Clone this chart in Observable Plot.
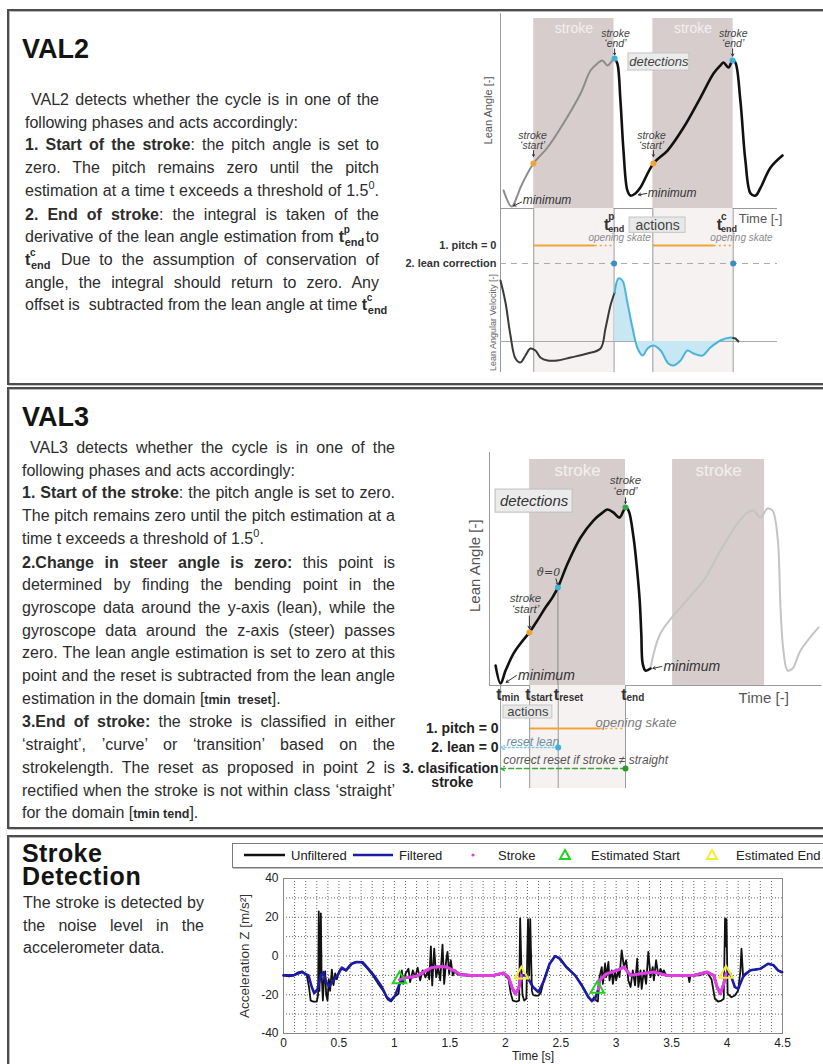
<!DOCTYPE html>
<html>
<head>
<meta charset="utf-8">
<script src="https://cdn.jsdelivr.net/npm/d3@7"></script>
<script src="https://cdn.jsdelivr.net/npm/@observablehq/plot@0.6"></script>
<style>
html,body{margin:0;padding:0;background:#fff}
#page{position:relative;width:823px;height:1064px;overflow:hidden;background:#fff;font-family:Arial,"Liberation Sans",Helvetica,sans-serif;color:#2c2c2c}
.panel{position:absolute;left:7px;width:840px;border:2px solid #4d4d4d;box-shadow:inset 1px 1px 0 #b8b8b8,1px 1px 0 #c8c8c8;box-sizing:border-box}
.title{position:absolute;left:22px;font-weight:bold;font-size:27px;line-height:27px;color:#141414;white-space:nowrap}
.para{position:absolute;font-size:16px;line-height:22.7px}
.para>div{white-space:nowrap}
.tn{position:relative;display:inline-block;font-weight:bold;width:27px}
.tn i{position:absolute;font-style:normal;font-size:10px;line-height:10px}
.tn .sp{left:5px;top:-1px}
.tn .sb{left:6px;top:11px;font-size:11px;line-height:11px}
.deg{position:relative;top:-7px;font-size:11px}
.sm{font-size:12.5px}
.chart{position:absolute}
.chart svg{overflow:visible}
.lg{position:absolute;font-size:13px;line-height:13px;color:#222;white-space:nowrap}
</style>
</head>
<body>
<div id="page">
  <div class="panel" style="top:9px;height:376px"></div>
  <div class="panel" style="top:387px;height:442px"></div>
  <div class="panel" style="top:835px;height:260px"></div>

  <div class="title" style="top:36px">VAL2</div>
  <div class="para" style="left:25px;top:89px;width:354px">
    <div class="j" style="padding-left:6px"><span>VAL2 detects whether the cycle is in one of the</span></div>
    <div><span>following phases and acts accordingly:</span></div>
    <div class="j"><span><b>1. Start of the stroke</b>: the pitch angle is set to</span></div>
    <div class="j"><span>zero. The pitch remains zero until the pitch</span></div>
    <div class="j"><span>estimation at a time t exceeds a threshold of 1.5<span class="deg">0</span>.</span></div>
    <div class="j"><span><b>2. End of stroke</b>: the integral is taken of the</span></div>
    <div class="j"><span>derivative of the lean angle estimation from <span class="tn">t<i class="sp">p</i><i class="sb">end</i></span>to</span></div>
    <div class="j"><span><span class="tn">t<i class="sp">c</i><i class="sb">end</i></span> Due to the assumption of conservation of</span></div>
    <div class="j"><span>angle, the integral should return to zero. Any</span></div>
    <div><span>offset is&nbsp; subtracted from the lean angle at time <span class="tn">t<i class="sp">c</i><i class="sb">end</i></span></span></div>
  </div>

  <div class="title" style="top:404px">VAL3</div>
  <div class="para" style="left:22px;top:437px;width:373px">
    <div class="j" style="padding-left:8px"><span>VAL3 detects whether the cycle is in one of the</span></div>
    <div><span>following phases and acts accordingly:</span></div>
    <div class="j"><span><b>1. Start of the stroke</b>: the pitch angle is set to zero.</span></div>
    <div class="j"><span>The pitch remains zero until the pitch estimation at a</span></div>
    <div><span>time t exceeds a threshold of 1.5<span class="deg">0</span>.</span></div>
    <div class="j"><span><b>2.Change in steer angle is zero:</b> this point is</span></div>
    <div class="j"><span>determined by finding the bending point in the</span></div>
    <div class="j"><span>gyroscope data around the y-axis (lean), while the</span></div>
    <div class="j"><span>gyroscope data around the z-axis (steer) passes</span></div>
    <div class="j"><span>zero. The lean angle estimation is set to zero at this</span></div>
    <div class="j"><span>point and the reset is subtracted from the lean angle</span></div>
    <div><span>estimation in the domain [<b class="sm">tmin&nbsp; treset</b>].</span></div>
    <div class="j"><span><b>3.End of stroke:</b> the stroke is classified in either</span></div>
    <div class="j"><span>‘straight’, ’curve’ or ‘transition’ based on the</span></div>
    <div class="j"><span>strokelength. The reset as proposed in point 2 is</span></div>
    <div class="j"><span>rectified when the stroke is not within class ‘straight’</span></div>
    <div><span>for the domain [<b class="sm">tmin tend</b>].</span></div>
  </div>

  <div class="title" style="top:842px;height:22px;line-height:22px;font-size:25px;letter-spacing:0.4px">Stroke</div>
  <div class="title" style="top:865px;height:22px;line-height:22px;font-size:25px;letter-spacing:0.6px">Detection</div>
  <div class="para" style="left:23px;top:892px;width:181px">
    <div class="j"><span>The stroke is detected by</span></div>
    <div class="j"><span>the noise level in the</span></div>
    <div><span>accelerometer data.</span></div>
  </div>

  <div id="legendBox" style="position:absolute;left:232px;top:843px;width:640px;height:23px;border:1px solid #7a7a7a;background:#fff;box-shadow:1px 1px 0 #bbb"></div>
</div>

<script>
// ================= DATA =================
// ---- VAL2 schematic (time [-] in schematic units) ----
const val2StrokeStart = [1.2, 5.5];
const val2StrokeEnd   = [4.1, 8.4];
// lean angle [-] : first cycle (grey) and following cycle (black)
const val2LeanPre = [[0.11,0.95],[0.40,0.10],[0.61,0.68],[0.72,1.10],[1.19,2.37],[1.70,3.21],[2.27,4.47],[2.89,6.05],[3.25,7.26],[3.50,7.63],[3.68,7.79],[3.86,7.53],[4.04,7.79],[4.12,7.89]];
const val2LeanPost = [[4.12,7.89],[4.22,7.63],[4.33,5.68],[4.44,3.05],[4.58,0.95],[4.69,0.68],[4.87,0.79],[5.05,1.10],[5.52,2.37],[6.03,3.05],[6.61,4.26],[7.22,5.84],[7.69,7.10],[7.94,7.53],[8.05,7.68],[8.23,7.42],[8.38,7.79],[8.48,7.68],[8.66,5.68],[8.84,2.53],[9.03,0.79],[9.21,0.68],[9.39,1.10],[9.75,2.16],[10.18,2.79]];
const val2StartPts = [[1.19,2.37],[5.52,2.37]];
const val2EndPts = [[4.12,7.89],[8.38,7.79]];
// lean angular velocity [-]
const val2VelPre = [[0,6.1],[0.18,3.9],[0.36,0.6],[0.54,-1.7],[0.72,-2.1],[0.90,-1.4],[1.08,-0.7],[1.26,-0.9],[1.44,-1.6],[1.70,-1.9],[2.06,-1.9],[2.53,-1.6],[3.14,-1.2],[3.61,-0.7],[3.79,1.3],[3.97,3.6],[4.12,4.9]];
const val2VelInt = [[4.12,4.9],[4.26,6.3],[4.40,6.1],[4.58,3.9],[4.77,1.3],[4.95,-0.7],[5.13,-1.4],[5.31,-0.7],[5.52,-0.4],[5.78,-0.9],[6.06,-2.2],[6.25,-2.4],[6.50,-1.9],[6.75,-0.9],[6.97,-1.2],[7.29,-1.4],[7.58,-0.6],[7.94,0.1],[8.30,0.4],[8.40,0.35]];
const val2VelTail = [[8.40,0.35],[8.48,0.3],[8.59,0.0]];
// actions
const val2PitchSolid = [[1.2,3.4],[5.5,7.7]];
const val2PitchDotted = [[3.4,4.1],[7.7,8.4]];
const val2LeanCorrDots = [4.1, 8.4];
const val2TEnd = [{x:3.93, sup:"p"}, {x:8.0, sup:"c"}];
// annotations
const val2StrokeLabels = [
  {x:4.15,y:9.21,text:"stroke"},{x:4.15,y:8.68,text:"‘end’"},
  {x:8.4,y:9.21,text:"stroke"},{x:8.4,y:8.68,text:"‘end’"},
  {x:1.16,y:3.84,text:"stroke"},{x:1.16,y:3.31,text:"‘start’"},
  {x:5.45,y:3.84,text:"stroke"},{x:5.45,y:3.31,text:"‘start’"}];
const val2Arrows = [{x1:4.12,y1:8.4,x2:4.12,y2:8.08},{x1:8.38,y1:8.4,x2:8.38,y2:8.02},{x1:1.19,y1:3.05,x2:1.19,y2:2.74},{x1:5.52,y1:3.05,x2:5.52,y2:2.74},{x1:0.76,y1:0.34,x2:0.47,y2:0.14},{x1:5.28,y1:0.79,x2:4.98,y2:0.72}];
const val2MinLabels = [{x:0.8,y:0.42,text:"minimum"},{x:5.32,y:0.79,text:"minimum"}];
const val2DetBox = [{x1:4.62,x2:6.82,y1:7.26,y2:8.16,text:"detections"}];
const val2ActBox = [{x1:4.66,x2:6.68,y1:0.5,y2:1.35,text:"actions"}];
const val2Opening = [{x:4.3,y:1.65},{x:8.7,y:1.65}];

// ---- VAL3 schematic ----
const val3StrokeStart = [1.45, 6.61];
const val3StrokeEnd   = [4.91, 9.93];
const val3Times = [{x:0.4,sub:"min"},{x:1.45,sub:"start"},{x:2.48,sub:"reset"},{x:4.91,sub:"end"}];
const val3LeanMain = [[0.22,0.88],[0.40,0.09],[0.58,0.66],[0.87,1.42],[1.12,1.86],[1.44,2.35],[1.77,2.96],[2.02,3.45],[2.27,3.89],[2.47,4.34],[2.82,5.40],[3.29,6.55],[3.75,7.30],[4.08,7.65],[4.26,7.79],[4.48,7.65],[4.69,7.43],[4.84,7.74],[4.91,7.88],[5.02,7.74],[5.20,6.55],[5.33,5.09],[5.42,3.8],[5.48,2.3],[5.53,0.97],[5.63,0.66],[5.81,0.75]];
const val3LeanNext = [[5.81,0.75],[6.17,2.30],[7.0,3.6],[7.73,4.65],[8.34,5.97],[8.95,7.17],[9.31,7.65],[9.53,7.74],[9.78,7.43],[10.04,7.83],[10.22,7.74],[10.40,6.55],[10.51,3.32],[10.61,1.55],[10.76,0.66],[10.94,0.75],[11.23,1.55],[11.88,2.57]];
const val3StartPt = [[1.44,2.35]];
const val3ResetPt = [[2.47,4.34]];
const val3EndPt = [[4.91,7.88]];
const val3StrokeLabels = [
  {x:4.91,y:9.07,text:"stroke"},{x:4.91,y:8.58,text:"‘end’"},
  {x:1.3,y:3.85,text:"stroke"},{x:1.3,y:3.36,text:"‘start’"}];
const val3Arrows = [{x1:4.91,y1:8.3,x2:4.91,y2:8.05},{x1:1.44,y1:3.08,x2:1.44,y2:2.52},{x1:2.40,y1:4.72,x2:2.46,y2:4.45},{x1:0.97,y1:0.44,x2:0.6,y2:0.14},{x1:6.22,y1:0.84,x2:5.9,y2:0.76}];
const val3MinLabels = [{x:1.03,y:0.42,text:"minimum"},{x:6.28,y:0.84,text:"minimum"}];
const val3DetBox = [{x1:0.22,x2:3.0,y1:7.65,y2:8.67,text:"detections"}];
const val3ActBox = [{x1:0.5,x2:2.27,y1:1.0,y2:1.65,text:"actions"}];
const val3Rows = [{y:2.15,text:"1. pitch = 0"},{y:3.1,text:"2. lean = 0"},{y:4.15,text:"3. clasification"}];
const val3PitchSolid = [[1.45,4.0]];
const val3PitchDotted = [[4.0,4.91]];

// ---- Stroke detection (time [s], acceleration Z [m/s^2]) ----
const sdUnfiltered = [[0,-10],[0.05,-10.5],[0.09,-10],[0.13,-8.5],[0.17,-8],[0.21,-10],[0.23,-16],[0.245,-23],[0.27,-23.5],[0.30,-23.5],[0.312,-20],[0.318,23],[0.324,-18],[0.33,-5],[0.337,22],[0.343,-8],[0.355,-23],[0.365,-12],[0.376,-8],[0.385,-20],[0.397,-23],[0.409,-12],[0.42,-18],[0.436,-7],[0.451,-15],[0.466,-9],[0.481,-12],[0.5,-8],[0.52,-6.5],[0.56,-7.5],[0.6,-4.5],[0.65,-3],[0.7,-3],[0.75,-6],[0.8,-9.5],[0.85,-14],[0.9,-18],[0.94,-22.5],[0.97,-23.5],[1.0,-21],[1.037,-19.5],[1.05,-13],[1.067,-7.4],[1.08,-14.4],[1.10,-9.2],[1.127,-6.6],[1.142,-13.5],[1.166,-7.4],[1.187,-10.9],[1.21,-6],[1.232,-12.6],[1.256,-7.4],[1.28,-11],[1.30,-8],[1.315,-12],[1.329,5],[1.341,-15.2],[1.359,3.8],[1.377,-10.9],[1.395,-6],[1.413,-12.6],[1.434,5.9],[1.449,-14.4],[1.467,-2.2],[1.479,2.1],[1.494,-9.2],[1.509,-2.2],[1.527,-10],[1.548,-7.4],[1.563,-9.2],[1.60,-10],[1.7,-10],[1.8,-10],[1.9,-10],[1.98,-9],[2.029,-11.8],[2.05,-19.5],[2.068,-23],[2.1,-23.5],[2.125,-23],[2.134,19.4],[2.145,-5],[2.155,-20],[2.17,-23],[2.19,-22],[2.205,19],[2.215,-10],[2.225,19],[2.24,-18],[2.25,-20],[2.27,-20.5],[2.30,-20.4],[2.32,-19],[2.35,-12],[2.40,-4],[2.45,0],[2.5,-1.5],[2.55,-5.5],[2.63,-10],[2.69,-15],[2.75,-21],[2.78,-23.5],[2.80,-21.3],[2.82,-23],[2.835,-23.5],[2.85,-10.9],[2.87,-5.7],[2.88,-14.4],[2.90,-4],[2.91,-10.9],[2.93,-3.1],[2.94,-12.6],[2.96,-7.4],[2.97,-14.4],[2.99,-7.4],[3.00,-12.6],[3.02,-7.4],[3.03,-10.9],[3.05,2.9],[3.07,-5.7],[3.09,-2.2],[3.11,-12.6],[3.13,-16],[3.15,-7.4],[3.17,-15.2],[3.19,-1.4],[3.20,-16],[3.22,-7.4],[3.23,-17],[3.25,-7.4],[3.27,-14.4],[3.29,2.1],[3.31,-10.9],[3.33,-5.7],[3.34,-12.6],[3.36,-2.2],[3.38,-10],[3.40,-6.6],[3.42,-9.2],[3.43,-7.4],[3.45,-10],[3.5,-10],[3.6,-10],[3.65,-10],[3.66,-13.5],[3.67,-10],[3.75,-10],[3.82,-8.5],[3.86,-12],[3.89,-22.1],[3.92,-23.5],[3.95,-23],[3.97,-22.1],[3.982,19.4],[3.99,5],[3.995,19],[4.005,-19.5],[4.04,-21.3],[4.07,-20.4],[4.10,-17.8],[4.12,-8],[4.13,3.8],[4.145,-10.9],[4.18,-9],[4.21,-7.4],[4.3,-6.6],[4.37,-4],[4.42,-4.8],[4.46,-7.4],[4.5,-8.3]];
const sdFiltered = [[0,-10],[0.09,-10],[0.165,-8.3],[0.225,-10],[0.255,-16],[0.277,-19.2],[0.307,-17],[0.337,-10],[0.36,-8.3],[0.385,-13.5],[0.415,-15.7],[0.45,-12.6],[0.487,-10],[0.526,-6],[0.565,-7.4],[0.616,-4],[0.661,-3.1],[0.715,-3.3],[0.766,-6.6],[0.827,-10.9],[0.887,-16],[0.932,-21.3],[0.968,-23],[1.007,-20.4],[1.046,-14.4],[1.097,-11.2],[1.157,-10.9],[1.217,-10],[1.277,-7.8],[1.337,-6],[1.413,-5.4],[1.473,-5.7],[1.533,-7.4],[1.593,-9.5],[1.683,-10],[1.773,-10],[1.894,-10],[1.984,-8.8],[2.029,-10.9],[2.059,-16],[2.089,-19.5],[2.119,-17],[2.149,-10],[2.19,-10],[2.25,-16],[2.30,-18.7],[2.35,-12.6],[2.40,-4],[2.45,0],[2.49,-1.4],[2.55,-5.7],[2.63,-10],[2.69,-15.2],[2.75,-21.3],[2.78,-23],[2.81,-22.1],[2.84,-17],[2.85,-12.6],[2.91,-9.2],[3.01,-7.4],[3.07,-5.7],[3.13,-10],[3.22,-9.2],[3.34,-8.3],[3.46,-10],[3.58,-10],[3.70,-10],[3.82,-8.3],[3.88,-10],[3.91,-16],[3.94,-19.5],[3.97,-14.4],[3.99,-9.2],[4.03,-9.2],[4.07,-16],[4.10,-17],[4.15,-10],[4.21,-7.4],[4.30,-6.6],[4.37,-4],[4.42,-4.8],[4.46,-7.4],[4.49,-8.3]];
const sdStroke1 = [[1.046,-12.3],[1.097,-11.2],[1.157,-10.9],[1.217,-10],[1.277,-7.8],[1.337,-6],[1.413,-5.4],[1.473,-5.7],[1.533,-7.4],[1.593,-9.5],[1.683,-10],[1.773,-10],[1.894,-10],[1.984,-8.8],[2.029,-10.9],[2.059,-16],[2.089,-19.5],[2.119,-17],[2.145,-10]];
const sdStroke2 = [[2.84,-17],[2.85,-12.6],[2.91,-9.2],[3.01,-7.4],[3.07,-5.7],[3.13,-10],[3.22,-9.2],[3.34,-8.3],[3.46,-10],[3.58,-10],[3.70,-10],[3.82,-8.3],[3.88,-10],[3.91,-16],[3.94,-19.5],[3.97,-14.4],[3.99,-9.2]];
const sdEstStart = [[1.046,-12],[2.83,-17]];
const sdEstEnd = [[2.145,-9.6],[3.99,-9.2]];
const sdXTicks = [0,0.5,1,1.5,2,2.5,3,3.5,4,4.5];
const sdYTicks = [-40,-20,0,20,40];
const sdLegend = [
  {label:"Unfiltered", kind:"line", color:"#111", sx:244, tx:291},
  {label:"Filtered", kind:"line", color:"#1b1ba8", sx:353, tx:399},
  {label:"Stroke", kind:"dot", color:"#e040e0", sx:473, tx:498},
  {label:"Estimated Start", kind:"tri", color:"#22d022", sx:565, tx:591},
  {label:"Estimated End", kind:"tri", color:"#f2ee30", sx:712, tx:736}
];

// ================= RENDER =================
const FONT = 'Arial, "Liberation Sans", Helvetica, sans-serif';
const baseStyle = {fontFamily: FONT, background: "transparent", overflow: "visible"};
const page = document.getElementById("page");
const X = d => d[0], Y = d => d[1];
function mount(svg, left, top) {
  const d = document.createElement("div");
  d.className = "chart"; d.style.left = left + "px"; d.style.top = top + "px";
  d.appendChild(svg); page.appendChild(d);
}
const STROKE_FILL = "#d7cdcd", SHADE = "#f6f2f2", GRID = "#9a9a9a", ORANGE = "#f0a438", CYAN = "#3fb0d8";

// ---- VAL2 lean angle ----
const s2 = d3.zip(val2StrokeStart, val2StrokeEnd).map(([s, e]) => ({s, e, m: (s + e) / 2}));
const b2 = val2StrokeStart.concat(val2StrokeEnd);
mount(Plot.plot({
  width: 383, height: 198, marginTop: 0, marginBottom: 0, marginLeft: 60, marginRight: 46,
  x: {domain: [0, 10], axis: null}, y: {domain: [0, 10.42], axis: null}, style: baseStyle,
  marks: [
    Plot.rect(s2, {x1: "s", x2: "e", y1: 0, y2: 10, fill: STROKE_FILL}),
    Plot.text(s2, {x: "m", y: 9.47, text: () => "stroke", fill: "#f4efef", fontSize: 14}),
    Plot.ruleX([0], {y1: 0, y2: 10.26, stroke: GRID}),
    Plot.ruleY([0], {x1: 0, x2: 10, stroke: GRID}),
    Plot.line(val2LeanPre, {x: X, y: Y, curve: "catmull-rom", stroke: "#8c8c8c", strokeWidth: 2}),
    Plot.line(val2LeanPost, {x: X, y: Y, curve: "catmull-rom", stroke: "#111", strokeWidth: 2.6}),
    Plot.rect(val2DetBox, {x1: "x1", x2: "x2", y1: "y1", y2: "y2", fill: "#ebebeb", stroke: "#c2c2c2"}),
    Plot.text(val2DetBox, {x: d => (d.x1 + d.x2) / 2, y: d => (d.y1 + d.y2) / 2, text: "text", fontStyle: "italic", fontSize: 13, fill: "#444"}),
    Plot.arrow(val2Arrows, {x1: "x1", y1: "y1", x2: "x2", y2: "y2", stroke: "#333", strokeWidth: 1, headLength: 4}),
    Plot.text(val2StrokeLabels, {x: "x", y: "y", text: "text", fontStyle: "italic", fontSize: 10.5, fill: "#444"}),
    Plot.text(val2MinLabels, {x: "x", y: "y", text: "text", textAnchor: "start", fontStyle: "italic", fontSize: 12, fill: "#333"}),
    Plot.dot(val2StartPts, {x: X, y: Y, r: 3, fill: ORANGE}),
    Plot.dot(val2EndPts, {x: X, y: Y, r: 3, fill: CYAN}),
    Plot.text(["Lean Angle [-]"], {x: 0, y: 5.16, dx: -12, rotate: -90, fontSize: 11, fill: "#555"})
  ]
}), 440, 10);

// ---- VAL2 actions ----
mount(Plot.plot({
  width: 383, height: 64, marginTop: 0, marginBottom: 0, marginLeft: 60, marginRight: 46,
  x: {domain: [0, 10], axis: null}, y: {domain: [0, 3.55], reverse: true, axis: null}, style: baseStyle,
  marks: [
    Plot.rect(s2, {x1: "s", x2: "e", y1: 0, y2: 3.55, fill: SHADE}),
    Plot.ruleX([0], {y1: 0, y2: 3.55, stroke: GRID}),
    Plot.ruleX(b2, {y1: 0, y2: 3.55, stroke: GRID}),
    Plot.link(val2PitchSolid, {x1: X, x2: Y, y1: 2.05, y2: 2.05, stroke: ORANGE, strokeWidth: 2}),
    Plot.link(val2PitchDotted, {x1: X, x2: Y, y1: 2.05, y2: 2.05, stroke: ORANGE, strokeWidth: 1.5, strokeDasharray: "2,3"}),
    Plot.ruleY([3.05], {x1: 0, x2: 10, stroke: "#aaa", strokeDasharray: "6,5"}),
    Plot.dot(val2LeanCorrDots, {x: d => d, y: 3.05, r: 3, fill: "#3b8fc4"}),
    Plot.text(["1. pitch = 0", "2. lean correction"], {x: 0, y: (d, i) => [2.05, 3.05][i], dx: -4, textAnchor: "end", fontWeight: "bold", fontSize: 11, fill: "#333"}),
    Plot.text(val2Opening, {x: "x", y: "y", text: () => "opening skate", fontStyle: "italic", fontSize: 10, fill: "#8a8a8a"}),
    Plot.text(val2TEnd, {x: "x", y: 0.9, text: () => "t", textAnchor: "end", fontWeight: "bold", fontSize: 16, fill: "#333"}),
    Plot.text(val2TEnd, {x: "x", y: 0.45, text: "sup", textAnchor: "start", dx: -1, fontWeight: "bold", fontSize: 10, fill: "#333"}),
    Plot.text(val2TEnd, {x: "x", y: 1.12, text: () => "end", textAnchor: "start", dx: -1, fontWeight: "bold", fontSize: 9, fill: "#333"}),
    Plot.rect(val2ActBox, {x1: "x1", x2: "x2", y1: "y1", y2: "y2", fill: "#e8e8e8", stroke: "#c4c4c4"}),
    Plot.text(val2ActBox, {x: d => (d.x1 + d.x2) / 2, y: d => (d.y1 + d.y2) / 2, text: "text", fontSize: 14, fill: "#444"}),
    Plot.text(["Time [-]"], {x: 8.6, y: 0.6, textAnchor: "start", fontSize: 13, fill: "#555"})
  ]
}), 440, 208);

// ---- VAL2 lean angular velocity ----
mount(Plot.plot({
  width: 383, height: 104, marginTop: 0, marginBottom: 0, marginLeft: 60, marginRight: 46,
  x: {domain: [0, 10], axis: null}, y: {domain: [-3.5, 6.9], axis: null}, style: baseStyle,
  marks: [
    Plot.rect(s2, {x1: "s", x2: "e", y1: -3.1, y2: 6.9, fill: SHADE}),
    Plot.ruleX([0], {y1: -3.1, y2: 6.9, stroke: GRID}),
    Plot.ruleX(b2, {y1: -3.1, y2: 6.9, stroke: GRID}),
    Plot.ruleY([0], {x1: 0, x2: 10, stroke: "#aaa"}),
    Plot.areaY(val2VelInt, {x: X, y1: 0, y2: Y, curve: "catmull-rom", fill: "#c6e7f3"}),
    Plot.line(val2VelPre, {x: X, y: Y, curve: "catmull-rom", stroke: "#3a3a3a", strokeWidth: 2}),
    Plot.line(val2VelInt, {x: X, y: Y, curve: "catmull-rom", stroke: "#4ab4d8", strokeWidth: 2}),
    Plot.line(val2VelTail, {x: X, y: Y, curve: "catmull-rom", stroke: "#3a3a3a", strokeWidth: 2}),
    Plot.text(["Lean Angular Velocity [-]"], {x: 0, y: 1.9, dx: -7, rotate: -90, fontSize: 9, fill: "#666"})
  ]
}), 440, 272);

// ---- VAL3 lean angle ----
const s3 = d3.zip(val3StrokeStart, val3StrokeEnd).map(([s, e]) => ({s, e, m: (s + e) / 2}));
mount(Plot.plot({
  width: 423, height: 233, marginTop: 0, marginBottom: 0, marginLeft: 89, marginRight: 1.6,
  x: {domain: [0, 12], axis: null}, y: {domain: [0, 10.31], axis: null}, style: baseStyle,
  marks: [
    Plot.rect(s3, {x1: "s", x2: "e", y1: 0, y2: 10, fill: STROKE_FILL}),
    Plot.text(s3, {x: "m", y: 9.51, text: () => "stroke", fill: "#f4efef", fontSize: 17}),
    Plot.ruleX([0], {y1: 0, y2: 10.31, stroke: GRID}),
    Plot.ruleY([0], {x1: 0, x2: 12, stroke: GRID}),
    Plot.ruleX(val3ResetPt, {x: X, y1: 0, y2: Y, stroke: "#8a8a8a"}),
    Plot.line(val3LeanNext, {x: X, y: Y, curve: "catmull-rom", stroke: "#c4c4c4", strokeWidth: 2}),
    Plot.line(val3LeanMain, {x: X, y: Y, curve: "catmull-rom", stroke: "#111", strokeWidth: 2.6}),
    Plot.rect(val3DetBox, {x1: "x1", x2: "x2", y1: "y1", y2: "y2", fill: "#ebebeb", stroke: "#bdbdbd"}),
    Plot.text(val3DetBox, {x: d => (d.x1 + d.x2) / 2, y: d => (d.y1 + d.y2) / 2, text: "text", fontStyle: "italic", fontSize: 15, fill: "#333"}),
    Plot.arrow(val3Arrows, {x1: "x1", y1: "y1", x2: "x2", y2: "y2", stroke: "#333", strokeWidth: 1, headLength: 4}),
    Plot.text(val3StrokeLabels, {x: "x", y: "y", text: "text", fontStyle: "italic", fontSize: 11.5, fill: "#444"}),
    Plot.text(val3MinLabels, {x: "x", y: "y", text: "text", textAnchor: "start", fontStyle: "italic", fontSize: 14, fill: "#333"}),
    Plot.text(["ϑ=0"], {x: 2.12, y: 5.0, fontFamily: "DejaVu Serif", fontStyle: "italic", fontSize: 11, fill: "#444"}),
    Plot.dot(val3StartPt, {x: X, y: Y, r: 3, fill: ORANGE}),
    Plot.dot(val3ResetPt, {x: X, y: Y, r: 3, fill: CYAN}),
    Plot.dot(val3EndPt, {x: X, y: Y, r: 3, fill: "#2fa84a"}),
    Plot.text(["Lean Angle [-]"], {x: 0, y: 5.3, dx: -14, rotate: -90, fontSize: 15, fill: "#555"})
  ]
}), 400, 452);

// ---- VAL3 actions ----
mount(Plot.plot({
  width: 423, height: 107, marginTop: 0, marginBottom: 0, marginLeft: 89, marginRight: 1.6,
  x: {domain: [0, 12], axis: null}, y: {domain: [0, 5.35], reverse: true, axis: null}, style: baseStyle,
  marks: [
    Plot.rect([0], {x1: val3StrokeStart[0], x2: val3StrokeEnd[0], y1: 0, y2: 5.15, fill: SHADE}),
    Plot.ruleX(val3Times, {x: "x", y1: 0, y2: 5.15, stroke: GRID}),
    Plot.text(val3Times, {x: "x", y: 0.45, dx: 1, text: () => "t", textAnchor: "end", fontWeight: "bold", fontSize: 16, fill: "#333"}),
    Plot.text(val3Times, {x: "x", y: 0.62, dx: 1, text: "sub", textAnchor: "start", fontWeight: "bold", fontSize: 10, fill: "#333"}),
    Plot.text(["Time [-]"], {x: 8.99, y: 0.65, textAnchor: "start", fontSize: 15, fill: "#555"}),
    Plot.rect(val3ActBox, {x1: "x1", x2: "x2", y1: "y1", y2: "y2", fill: "#e8e8e8", stroke: "#c4c4c4"}),
    Plot.text(val3ActBox, {x: d => (d.x1 + d.x2) / 2, y: d => (d.y1 + d.y2) / 2, text: "text", fontSize: 13, fill: "#444"}),
    Plot.link(val3PitchSolid, {x1: X, x2: Y, y1: 2.15, y2: 2.15, stroke: ORANGE, strokeWidth: 2}),
    Plot.link(val3PitchDotted, {x1: X, x2: Y, y1: 2.15, y2: 2.15, stroke: ORANGE, strokeWidth: 1.5, strokeDasharray: "2,3"}),
    Plot.text(["opening skate"], {x: 3.83, y: 1.85, textAnchor: "start", fontStyle: "italic", fontSize: 13, fill: "#7a7a7a"}),
    Plot.text(["reset lean"], {x: 0.61, y: 2.82, textAnchor: "start", fontStyle: "italic", fontSize: 12, fill: "#6b8fa0"}),
    Plot.arrow([0], {x1: val3Times[2].x, x2: val3Times[0].x, y1: 3.1, y2: 3.1, stroke: "#7ccde3", strokeWidth: 1.3, strokeDasharray: "2,2", headLength: 5}),
    Plot.dot([0], {x: val3Times[2].x, y: 3.1, r: 3, fill: CYAN}),
    Plot.text(["correct reset if stroke ≠ straight"], {x: 0.5, y: 3.75, textAnchor: "start", fontStyle: "italic", fontSize: 12, fill: "#555"}),
    Plot.arrow([0], {x1: val3Times[3].x, x2: val3Times[0].x, y1: 4.15, y2: 4.15, stroke: "#3aaa3a", strokeWidth: 1.3, strokeDasharray: "5,3", headLength: 5}),
    Plot.dot([0], {x: val3Times[3].x, y: 4.15, r: 3, fill: "#2a9a2a"}),
    Plot.text(val3Rows, {x: 0.33, y: "y", text: "text", textAnchor: "end", fontWeight: "bold", fontSize: 14, fill: "#222"}),
    Plot.text(["stroke"], {x: -1.34, y: 4.85, fontWeight: "bold", fontSize: 14, fill: "#222"})
  ]
}), 400, 685);

// ---- Stroke detection chart ----
mount(Plot.plot({
  width: 593, height: 194, marginTop: 8, marginBottom: 31, marginLeft: 53, marginRight: 41,
  style: Object.assign({}, baseStyle, {fontSize: "12px", color: "#222"}),
  x: {domain: [0, 4.5], ticks: sdXTicks, tickFormat: d => String(d), tickSize: 0, tickPadding: 5, label: "Time [s]", labelAnchor: "center", labelArrow: "none", labelOffset: 26},
  y: {domain: [-40, 40], ticks: sdYTicks, tickFormat: d => String(d), tickSize: 0, tickPadding: 5, label: null},
  marks: [
    Plot.gridX(d3.range(1, 45).map(i => i / 10), {stroke: "#555", strokeOpacity: 0.9, strokeDasharray: "1,2"}),
    Plot.gridY(d3.range(-3, 4).map(i => i * 10), {stroke: "#555", strokeOpacity: 0.9, strokeDasharray: "1,2"}),
    Plot.frame({stroke: "#888"}),
    Plot.line(sdUnfiltered, {x: X, y: Y, stroke: "#111", strokeWidth: 1.8}),
    Plot.line(sdFiltered, {x: X, y: Y, stroke: "#1b1ba8", strokeWidth: 2.6}),
    Plot.line(sdStroke1, {x: X, y: Y, stroke: "#e23ee2", strokeWidth: 3}),
    Plot.line(sdStroke2, {x: X, y: Y, stroke: "#e23ee2", strokeWidth: 3}),
    Plot.dot(sdEstStart, {x: X, y: Y, symbol: "triangle", r: 5, stroke: "#22d022", strokeWidth: 2, fill: "none"}),
    Plot.dot(sdEstEnd, {x: X, y: Y, symbol: "triangle", r: 5, stroke: "#f2ee30", strokeWidth: 2, fill: "none"}),
    Plot.text(["Acceleration Z [m/s²]"], {frameAnchor: "left", textAnchor: "middle", dx: -39, rotate: -90, fontSize: 13.5, fill: "#333"})
  ]
}), 230, 870);

// ---- legend ----
sdLegend.forEach(it => {
  const ns = "http://www.w3.org/2000/svg";
  const sw = document.createElementNS(ns, "svg");
  sw.setAttribute("width", 44); sw.setAttribute("height", 14);
  sw.style.position = "absolute"; sw.style.left = (it.sx - 2) + "px"; sw.style.top = "848px";
  if (it.kind === "line") {
    sw.innerHTML = `<line x1="2" x2="${it.tx - it.sx - 4}" y1="7" y2="7" stroke="${it.color}" stroke-width="2.4"/>`;
  } else if (it.kind === "dot") {
    sw.innerHTML = `<circle cx="2" cy="7" r="1.6" fill="${it.color}"/>`;
  } else {
    sw.innerHTML = `<path d="M2,2 L7,11 L-3,11 Z" fill="none" stroke="${it.color}" stroke-width="2"/>`;
  }
  sw.style.overflow = "visible";
  page.appendChild(sw);
  const t = document.createElement("div");
  t.className = "lg"; t.textContent = it.label;
  t.style.left = it.tx + "px"; t.style.top = "849px";
  page.appendChild(t);
});

// ---- justify text lines ----
document.querySelectorAll(".para > div.j").forEach(div => {
  const span = div.firstElementChild;
  const cs = getComputedStyle(div);
  const target = div.clientWidth - parseFloat(cs.paddingLeft) - parseFloat(cs.paddingRight);
  const natural = span.getBoundingClientRect().width;
  const n = (span.textContent.match(/[ \u00a0]/g) || []).length;
  if (n > 0) span.style.wordSpacing = ((target - natural) / n) + "px";
});
</script>
</body>
</html>
